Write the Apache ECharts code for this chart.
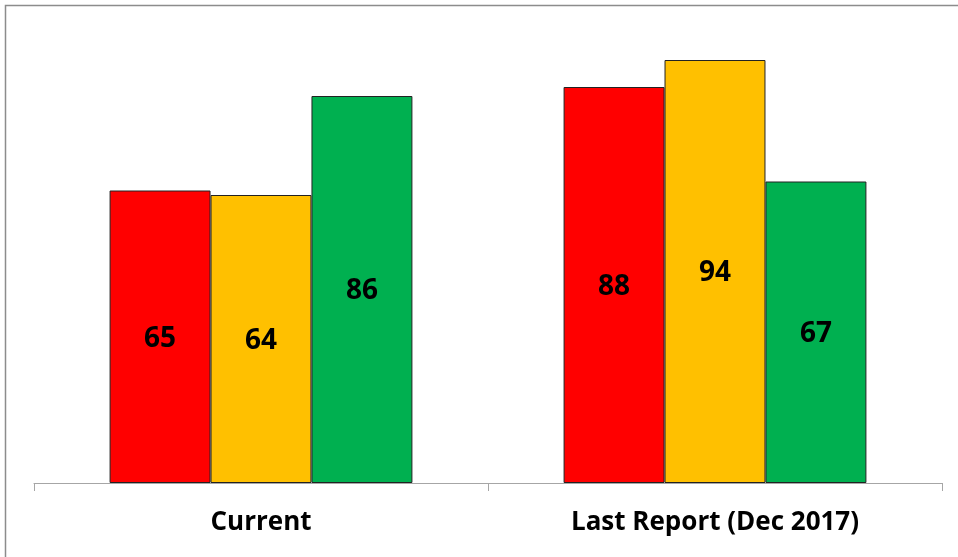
<!DOCTYPE html>
<html>
<head>
<meta charset="utf-8">
<script src="https://cdn.jsdelivr.net/npm/echarts@6/dist/echarts.min.js"></script>
<style>
  html, body { margin: 0; padding: 0; background: #fff; }
  #chart { width: 958px; height: 557px; }
</style>
</head>
<body>
<div id="chart"></div>
<script>
// Report periods on the x axis
const categories = ['Current', 'Last Report (Dec 2017)'];
// Counts per status colour, one array per series
const redValues = [65, 88];
const amberValues = [64, 94];
const greenValues = [86, 67];

const seriesColors = ['#FF0000', '#FFC000', '#00B050'];
const seriesData = [redValues, amberValues, greenValues];
const seriesNames = ['Red', 'Amber', 'Green'];

const chart = echarts.init(document.getElementById('chart'), null, { renderer: 'canvas' });

chart.setOption({
  animation: false,
  backgroundColor: '#ffffff',
  grid: { left: 34, right: 16, top: 33, bottom: 74 },
  xAxis: {
    type: 'category',
    data: categories,
    axisLine: { lineStyle: { color: '#a6a6a6', width: 1 } },
    axisTick: { show: true, length: 8, lineStyle: { color: '#a6a6a6' } },
    axisLabel: {
      color: '#000',
      fontFamily: 'Open Sans',
      fontWeight: 'bold',
      fontSize: 26,
      margin: 27
    }
  },
  yAxis: {
    type: 'value',
    min: 0,
    max: 100,
    show: false,
    splitLine: { show: false }
  },
  series: seriesData.map((vals, i) => ({
    name: seriesNames[i],
    type: 'bar',
    data: vals,
    barGap: '0%',
    barCategoryGap: '33.3%',
    itemStyle: { color: seriesColors[i], borderColor: '#222', borderWidth: 1 },
    label: {
      show: true,
      position: 'inside',
      offset: [0, 2],
      color: '#000',
      fontFamily: 'Open Sans',
      fontWeight: 'bold',
      fontSize: 28
    }
  })),
  graphic: [{
    type: 'rect',
    left: 3,
    top: 3,
    shape: { width: 980, height: 580 },
    style: { fill: 'none', stroke: '#8c8c8c', lineWidth: 1.5 },
    silent: true
  }]
});
</script>
</body>
</html>
